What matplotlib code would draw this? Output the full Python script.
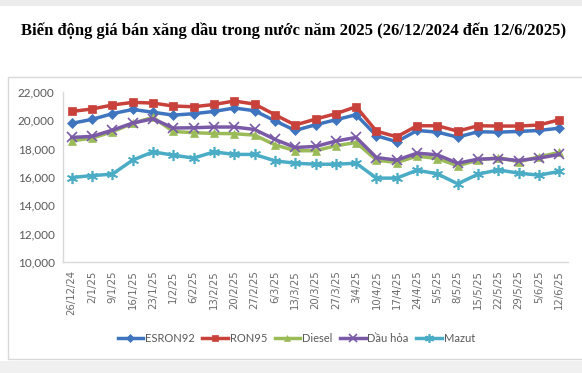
import matplotlib.pyplot as plt
from matplotlib.patches import Rectangle

dates = ["26/12/24", "2/1/25", "9/1/25", "16/1/25", "23/1/25", "1/2/25", "6/2/25",
         "13/2/25", "20/2/25", "27/2/25", "6/3/25", "13/3/25", "20/3/25", "27/3/25",
         "3/4/25", "10/4/25", "17/4/25", "24/4/25", "5/5/25", "8/5/25", "15/5/25",
         "22/5/25", "29/5/25", "5/6/25", "12/6/25"]

esron92 = [19770, 20050, 20450, 20750, 20550, 20350, 20450, 20610, 20850, 20660,
           19950, 19270, 19670, 20020, 20380, 18900, 18470, 19270, 19150, 18800,
           19180, 19150, 19200, 19270, 19430]
ron95 = [20610, 20780, 21060, 21250, 21200, 20990, 20940, 21100, 21340, 21130,
         20380, 19650, 20070, 20450, 20940, 19220, 18820, 19600, 19600, 19220,
         19600, 19580, 19580, 19650, 20020]
diesel = [18540, 18730, 19180, 19770, 20190, 19200, 19110, 19060, 19040, 18940,
          18260, 17840, 17840, 18190, 18420, 17180, 17010, 17460, 17290, 16780,
          17180, 17360, 17060, 17410, 17720]
dau_hoa = [18780, 18850, 19290, 19790, 20090, 19440, 19460, 19510, 19510, 19340,
           18640, 18070, 18140, 18520, 18780, 17360, 17180, 17670, 17550, 16960,
           17250, 17290, 17150, 17320, 17580]
mazut = [15950, 16090, 16190, 17180, 17760, 17530, 17320, 17760, 17580, 17580,
         17130, 16960, 16890, 16890, 16960, 15910, 15910, 16470, 16210, 15510,
         16190, 16490, 16260, 16120, 16380]

series = [
    ("ESRON92", esron92, "#3F74BE", "D", 5),
    ("RON95", ron95, "#C8413B", "s", 6),
    ("Diesel", diesel, "#9BBB59", "^", 6),
    ("Dầu hỏa", dau_hoa, "#7A5AA6", "x", 7),
    ("Mazut", mazut, "#4BACC6", (6, 2, 0), 8),
]

fig = plt.figure(figsize=(5.82, 3.73), dpi=100)

# grey bands at the top and bottom, plus the chart frame (behind the axes)
fig.patches.append(Rectangle((0, 1 - 6 / 373), 1, 6 / 373, transform=fig.transFigure,
                             facecolor="#ececec", edgecolor="none", zorder=-2))
fig.patches.append(Rectangle((0, 0), 1, 12 / 373, transform=fig.transFigure,
                             facecolor="#f0f0f0", edgecolor="none", zorder=-2))
fig.patches.append(Rectangle((8 / 582, 14 / 373), 1.0, (359 - 77) / 373,
                             transform=fig.transFigure, facecolor="white",
                             edgecolor="#d9d9d9", linewidth=1, zorder=-1))

fig.text(0.505, 0.918, "Biến động giá bán xăng dầu trong nước năm 2025 (26/12/2024 đến 12/6/2025)",
         ha="center", va="center", fontsize=12, fontweight="bold",
         family="Liberation Serif")

ax = fig.add_axes([63 / 582, 1 - 262 / 373, 505 / 582, (262 - 91.7) / 373])
ax.set_facecolor("none")
x = range(len(dates))
for name, vals, color, marker, ms in series:
    mew = 1.2 if marker == "x" or isinstance(marker, tuple) else 0.5
    ax.plot(x, vals, color=color, linewidth=2.5, marker=marker, markersize=ms,
            markeredgewidth=mew, label=name)

ax.set_ylim(10000, 22000)
ax.set_yticks(range(10000, 22001, 2000))
ax.set_yticklabels([f"{v:,}" for v in range(10000, 22001, 2000)],
                   fontsize=8.5, color="#595959", family="Lato")
ax.set_xlim(-0.43, len(dates) - 1 + 0.43)
ax.set_xticks(list(x))
ax.set_xticklabels(dates, rotation=90, fontsize=7.3, color="#6b6b6b",
                   family="DejaVu Sans")
ax.tick_params(axis="x", length=0, pad=6)
ax.tick_params(axis="y", length=0, pad=6)

for side in ("top", "right"):
    ax.spines[side].set_visible(False)
for side in ("left", "bottom"):
    ax.spines[side].set_color("#d9d9d9")
    ax.spines[side].set_linewidth(1)

leg = fig.legend(loc="center", bbox_to_anchor=(0.509, 1 - 338 / 373), ncol=5,
                 frameon=False, handlelength=2.3, columnspacing=0.7,
                 handletextpad=0.15, markerscale=0.8,
                 prop={"family": "Lato", "size": 8})
for t in leg.get_texts():
    t.set_color("#595959")

fig.savefig("out.png", dpi=100)
